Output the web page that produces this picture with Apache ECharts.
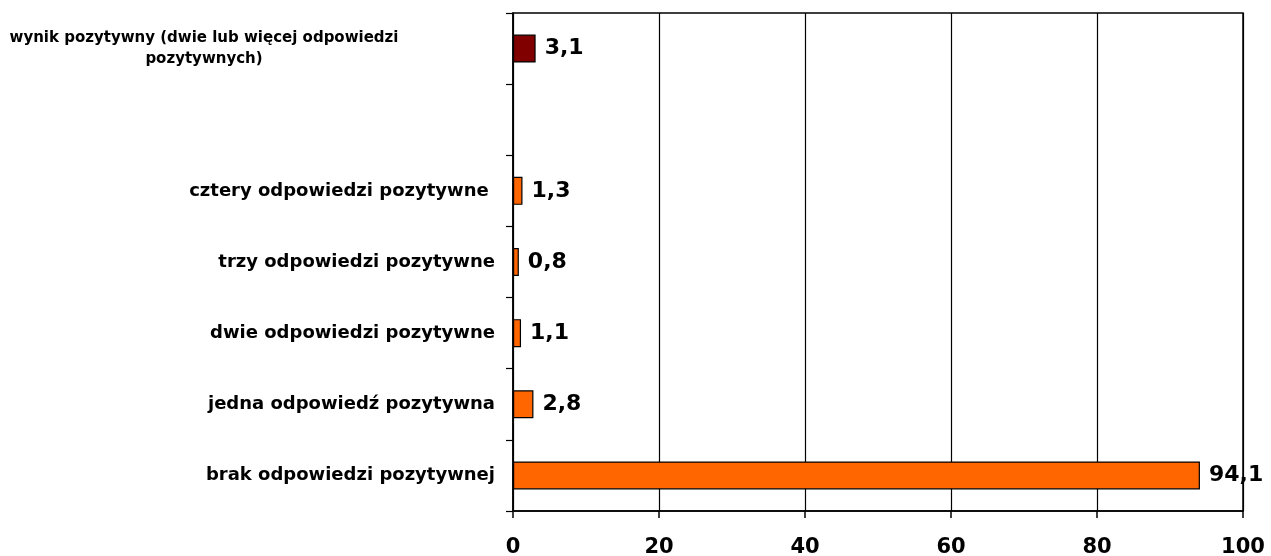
<!DOCTYPE html>
<html>
<head>
<meta charset="utf-8">
<script src="https://cdn.jsdelivr.net/npm/echarts@6/dist/echarts.min.js"></script>
<style>
html,body{margin:0;padding:0;background:#fff;}
#c{width:1271px;height:556px;}
</style>
</head>
<body>
<div id="c"></div>
<script>
const categories = [
  'brak odpowiedzi pozytywnej',
  'jedna odpowiedź pozytywna',
  'dwie odpowiedzi pozytywne',
  'trzy odpowiedzi pozytywne',
  'cztery odpowiedzi pozytywne ',
  '',
  'wynik pozytywny (dwie lub więcej odpowiedzi pozytywnych)'
];
const values = [94.1, 2.8, 1.1, 0.8, 1.3, null, 3.1];
const barColors = ['#FF6600', '#FF6600', '#FF6600', '#FF6600', '#FF6600', '#FF6600', '#800000'];
const xTicks = [0, 20, 40, 60, 80, 100];

const FONT = '"DejaVu Sans", Verdana, sans-serif';
const chart = echarts.init(document.getElementById('c'), null, {renderer: 'canvas'});
chart.setOption({
  animation: false,
  backgroundColor: '#fff',
  grid: {left: 513, right: 28, top: 13, bottom: 45, containLabel: false, outerBoundsMode: 'none',
         show: true, borderColor: '#000', borderWidth: 1.5},
  xAxis: {
    type: 'value', min: xTicks[0], max: xTicks[xTicks.length - 1], interval: 20,
    axisLine: {show: true, lineStyle: {color: '#000', width: 1.5}},
    axisTick: {show: true, inside: false, length: 7, lineStyle: {color: '#000', width: 1.5}},
    splitLine: {show: true, lineStyle: {color: '#000', width: 1.2}},
    axisLabel: {color: '#000', fontFamily: FONT, fontWeight: 'bold', fontSize: 21, margin: 26}
  },
  yAxis: {
    type: 'category', data: categories,
    axisLine: {show: true, lineStyle: {color: '#000', width: 1.5}},
    axisTick: {show: true, inside: false, length: 7, alignWithLabel: false, lineStyle: {color: '#000', width: 1.2}},
    splitLine: {show: false},
    axisLabel: {
      color: '#000', fontFamily: FONT, fontWeight: 'bold', fontSize: 18, margin: 18,
      formatter: function (v) {
        if (v.indexOf('wynik') === 0) {
          return '{c|wynik pozytywny (dwie lub więcej odpowiedzi}\n{c|pozytywnych)}';
        }
        return v;
      },
      rich: {
        c: {width: 582, align: 'center', color: '#000', fontFamily: FONT, fontWeight: 'bold', fontSize: 15, lineHeight: 21}
      }
    }
  },
  series: [{
    type: 'bar',
    barWidth: 28,
    data: values.map((v, i) => ({value: v, itemStyle: {color: barColors[i], borderColor: '#000', borderWidth: 1.2}})),
    label: {
      show: true, position: 'right', distance: 9,
      color: '#000', fontFamily: FONT, fontWeight: 'bold', fontSize: 22,
      formatter: p => p.value == null ? '' : String(p.value.toFixed(1)).replace('.', ',')
    }
  }]
});
</script>
</body>
</html>
